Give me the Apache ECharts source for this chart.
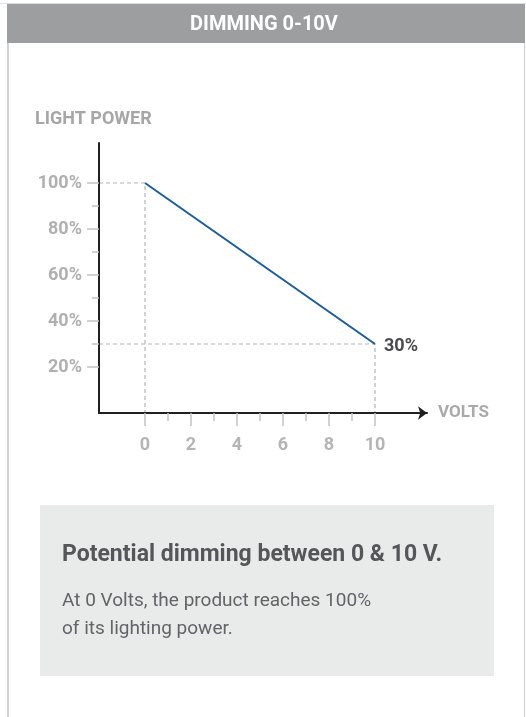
<!DOCTYPE html>
<html>
<head>
<meta charset="utf-8">
<script src="https://cdn.jsdelivr.net/npm/echarts@6/dist/echarts.min.js"></script>
<style>
	html, body{
		margin: 0;
		padding: 0;
		background: #fff;
	}
	#chart{
		width: 526px;
		height: 717px;
	}
</style>
</head>
<body>
<div id="chart"></div>
<script type="text/javascript">
// data
var volts = [0, 10];          // X: control voltage
var power = [100, 30];        // Y: light power in %
var xMajorTicks = [0, 2, 4, 6, 8, 10];
var xMinorTicks = [1, 3, 5, 7, 9];
var yMajorTicks = [20, 40, 60, 80, 100];
var yMinorTicks = [30, 50, 70, 90];

var FONT = 'Roboto, "Liberation Sans", sans-serif';
var lastIdx = volts.length - 1;

// dashed guides from the axis to each end point
var guideStart = [[-2, power[0]], [volts[0], power[0]], [volts[0], 0]];
var guideEnd = [[-2, power[lastIdx]], [volts[lastIdx], power[lastIdx]], [volts[lastIdx], 0]];

var lineData = [];
for (var i = 0; i < volts.length; i++) {
	lineData.push([volts[i], power[i]]);
}

var axisBase = {
	type: 'value',
	z: 3,
	splitLine: {show: false},
	axisLine: {show: false, onZero: false},
	axisLabel: {show: false},
	axisTick: {show: false}
};

function axis(extra) {
	return echarts.util.merge(echarts.util.clone(axisBase), extra, true);
}

var myChart = echarts.init(document.getElementById('chart'));
var option = {
	animation: false,
	backgroundColor: '#fff',
	grid: {
		left: 99,
		right: 99,
		top: 143,
		bottom: 304,
		outerBoundsMode: 'none'
	},
	xAxis: [
		axis({
			min: -2,
			max: 12.26,
			position: 'bottom',
			name: 'VOLTS',
			nameLocation: 'end',
			nameGap: 11,
			nameTextStyle: {color: '#a9a9a9', fontFamily: FONT, fontWeight: 'bold', fontSize: 17, align: 'left', verticalAlign: 'middle', padding: [9, 0, 0, 0]},
			axisLine: {show: true, symbol: ['none', 'arrow'], symbolSize: [10, 9], lineStyle: {color: '#231f20', width: 2}},
			axisTick: {show: true, customValues: xMajorTicks, length: 13, lineStyle: {color: '#c2c2c2', width: 1.5}},
			axisLabel: {show: true, customValues: xMajorTicks, margin: 23, color: '#b5b5b5', fontFamily: FONT, fontWeight: 'bold', fontSize: 18}
		}),
		axis({
			min: -2,
			max: 12.26,
			position: 'bottom',
			axisTick: {show: true, customValues: xMinorTicks, length: 8, lineStyle: {color: '#c2c2c2', width: 1.5}}
		})
	],
	yAxis: [
		axis({
			min: 0,
			max: 117.4,
			position: 'left',
			axisLine: {show: true, lineStyle: {color: '#231f20', width: 2}},
			axisTick: {show: true, customValues: yMajorTicks, length: 12, lineStyle: {color: '#c2c2c2', width: 1.5}},
			axisLabel: {show: true, customValues: yMajorTicks, margin: 17, color: '#b0b0b0', fontFamily: FONT, fontWeight: 'bold', fontSize: 18,
				formatter: function (v) { return v + '%'; }}
		}),
		axis({
			min: 0,
			max: 117.4,
			position: 'left',
			axisTick: {show: true, customValues: yMinorTicks, length: 7, lineStyle: {color: '#c2c2c2', width: 1.5}}
		})
	],
	graphic: [
		{type: 'rect', silent: true, shape: {x: 0, y: 3, width: 526, height: 1}, style: {fill: '#dedede'}},
		{type: 'rect', silent: true, shape: {x: 7, y: 4, width: 518, height: 39}, style: {fill: '#9d9ea0'}},
		{type: 'rect', silent: true, shape: {x: 7, y: 43, width: 2, height: 674}, style: {fill: '#d2d2d2'}},
		{type: 'rect', silent: true, shape: {x: 524, y: 43, width: 1, height: 674}, style: {fill: '#cfcfcf'}},
		{type: 'text', silent: true, style: {text: 'DIMMING 0-10V', x: 264, y: 25, align: 'center', verticalAlign: 'middle',
			fill: '#fff', font: 'bold 20px ' + FONT}},
		{type: 'text', silent: true, style: {text: 'LIGHT POWER', x: 35, y: 119, align: 'left', verticalAlign: 'middle',
			fill: '#a6a6a6', font: 'bold 18px ' + FONT}},
		// info box
		{type: 'rect', silent: true, shape: {x: 40, y: 505, width: 454, height: 171}, style: {fill: '#e9eaea'}},
		{type: 'text', silent: true, style: {text: 'Potential dimming between 0 & 10 V.', x: 62, y: 555, align: 'left', verticalAlign: 'middle',
			fill: '#555659', font: 'bold 23px ' + FONT}},
		{type: 'text', silent: true, style: {text: 'At 0 Volts, the product reaches 100%', x: 62, y: 601, align: 'left', verticalAlign: 'middle',
			fill: '#636466', font: '19px ' + FONT}},
		{type: 'text', silent: true, style: {text: 'of its lighting power.', x: 62, y: 629, align: 'left', verticalAlign: 'middle',
			fill: '#636466', font: '19px ' + FONT}}
	],
	series: [
		{
			name: 'guide-start',
			type: 'line',
			silent: true,
			symbol: 'none',
			z: 1,
			data: guideStart,
			lineStyle: {color: '#b4b4b4', width: 1.2, type: [4, 3]}
		},
		{
			name: 'guide-end',
			type: 'line',
			silent: true,
			symbol: 'none',
			z: 1,
			data: guideEnd,
			lineStyle: {color: '#b4b4b4', width: 1.2, type: [4, 3]}
		},
		{
			name: 'power',
			type: 'line',
			symbol: 'none',
			z: 4,
			data: lineData,
			lineStyle: {color: '#1b5c98', width: 2},
			endLabel: {
				show: true,
				distance: 9,
				offset: [0, 2],
				color: '#4b4b4d',
				fontFamily: FONT,
				fontWeight: 'bold',
				fontSize: 18,
				formatter: function (p) { return p.value[1] + '%'; }
			}
		}
	]
};
myChart.setOption(option);
</script>
</body>
</html>
